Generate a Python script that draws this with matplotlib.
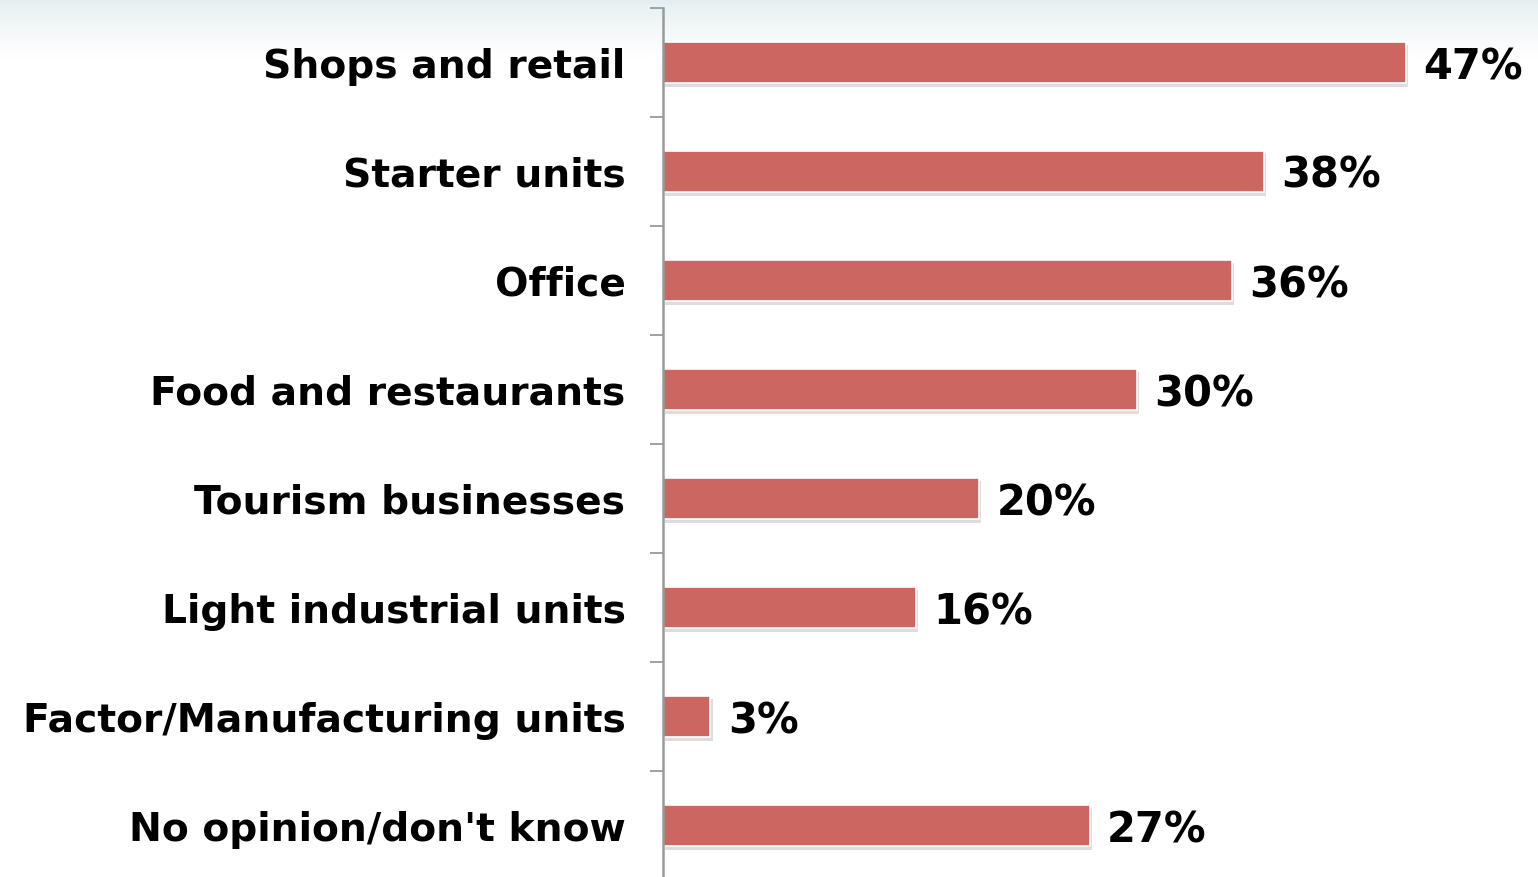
import numpy as np
import matplotlib
matplotlib.use("Agg")
import matplotlib.pyplot as plt
from matplotlib import patheffects as pe
from matplotlib.ticker import FixedLocator

categories = [
    "Shops and retail",
    "Starter units",
    "Office",
    "Food and restaurants",
    "Tourism businesses",
    "Light industrial units",
    "Factor/Manufacturing units",
    "No opinion/don't know",
]
values = [47, 38, 36, 30, 20, 16, 3, 27]
value_labels = ["47%", "38%", "36%", "30%", "20%", "16%", "3%", "27%"]

BAR_COLOR = "#CC6661"
AXIS_COLOR = "#9A9A9A"
W, H, DPI = 1538, 877, 100

plt.rcParams["font.family"] = ["DejaVu Sans"]

fig = plt.figure(figsize=(W / DPI, H / DPI), dpi=DPI)
fig.patch.set_facecolor("white")

# soft blue-grey band fading into white across the top of the canvas
bg = fig.add_axes([0, 0, 1, 1], zorder=0)
bg.set_axis_off()
n = 300
t = np.linspace(0, 1, n)
top = np.array([0.898, 0.937, 0.945])
fade = np.clip(t / 0.065, 0, 1) ** 0.8
rgb = top[None, :] * (1 - fade[:, None]) + np.ones(3)[None, :] * fade[:, None]
img = np.repeat(rgb[:, None, :], 2, axis=1)
bg.imshow(img, aspect="auto", extent=(0, 1, 0, 1), origin="upper")
bg.set_xlim(0, 1)
bg.set_ylim(0, 1)

n_cat = len(categories)
px_left, px_top, step = 663, 8, 109
ax_left = px_left / W
ax_top = 1 - px_top / H
ax_bottom = 1 - (px_top + step * n_cat) / H
ax = fig.add_axes([ax_left, ax_bottom, 1 - ax_left, ax_top - ax_bottom], zorder=1)
ax.patch.set_alpha(0)

px_per_unit = (1406 - px_left) / 47.0
ax.set_xlim(0, (W - px_left) / px_per_unit)
ax.set_ylim(n_cat - 0.5, -0.5)

y = np.arange(n_cat)
bars = ax.barh(y, values, height=0.385, color=BAR_COLOR, edgecolor="white",
               linewidth=1.2, zorder=3)
for b in bars:
    b.set_path_effects([
        pe.SimplePatchShadow(offset=(1.5, -2.5), shadow_rgbFace="#909090", alpha=0.3),
        pe.Normal(),
    ])

for s in ("top", "right", "bottom"):
    ax.spines[s].set_visible(False)
ax.spines["left"].set_color(AXIS_COLOR)
ax.spines["left"].set_linewidth(1.8)
ax.spines["left"].set_zorder(4)
ax.xaxis.set_visible(False)

ax.set_yticks(y)
ax.set_yticklabels(categories, fontsize=28.3, fontweight="bold")
ax.tick_params(axis="y", which="major", length=0, pad=27)
ax.yaxis.set_minor_locator(FixedLocator(np.arange(n_cat + 1) - 0.5))
ax.tick_params(axis="y", which="minor", length=9.5, width=1.3, color=AXIS_COLOR,
               direction="out")

texts = []
for yi, v, lab in zip(y, values, value_labels):
    t_ = ax.annotate(lab, xy=(v, yi), xytext=(12.5, 0), textcoords="offset points",
                     ha="left", va="center_baseline", fontsize=30, fontweight="bold",
                     color="black", zorder=5)
    texts.append(t_)

# keep value labels inside the canvas
fig.canvas.draw()
renderer = fig.canvas.get_renderer()
limit = W - 15
for t_ in texts:
    bb = t_.get_window_extent(renderer)
    if bb.x1 > limit:
        shift = (bb.x1 - limit) * 72.0 / DPI
        ox, oy = t_.xyann
        t_.xyann = (max(ox - shift, 1.5), oy)

fig.savefig("out.png", dpi=DPI, facecolor="white")
